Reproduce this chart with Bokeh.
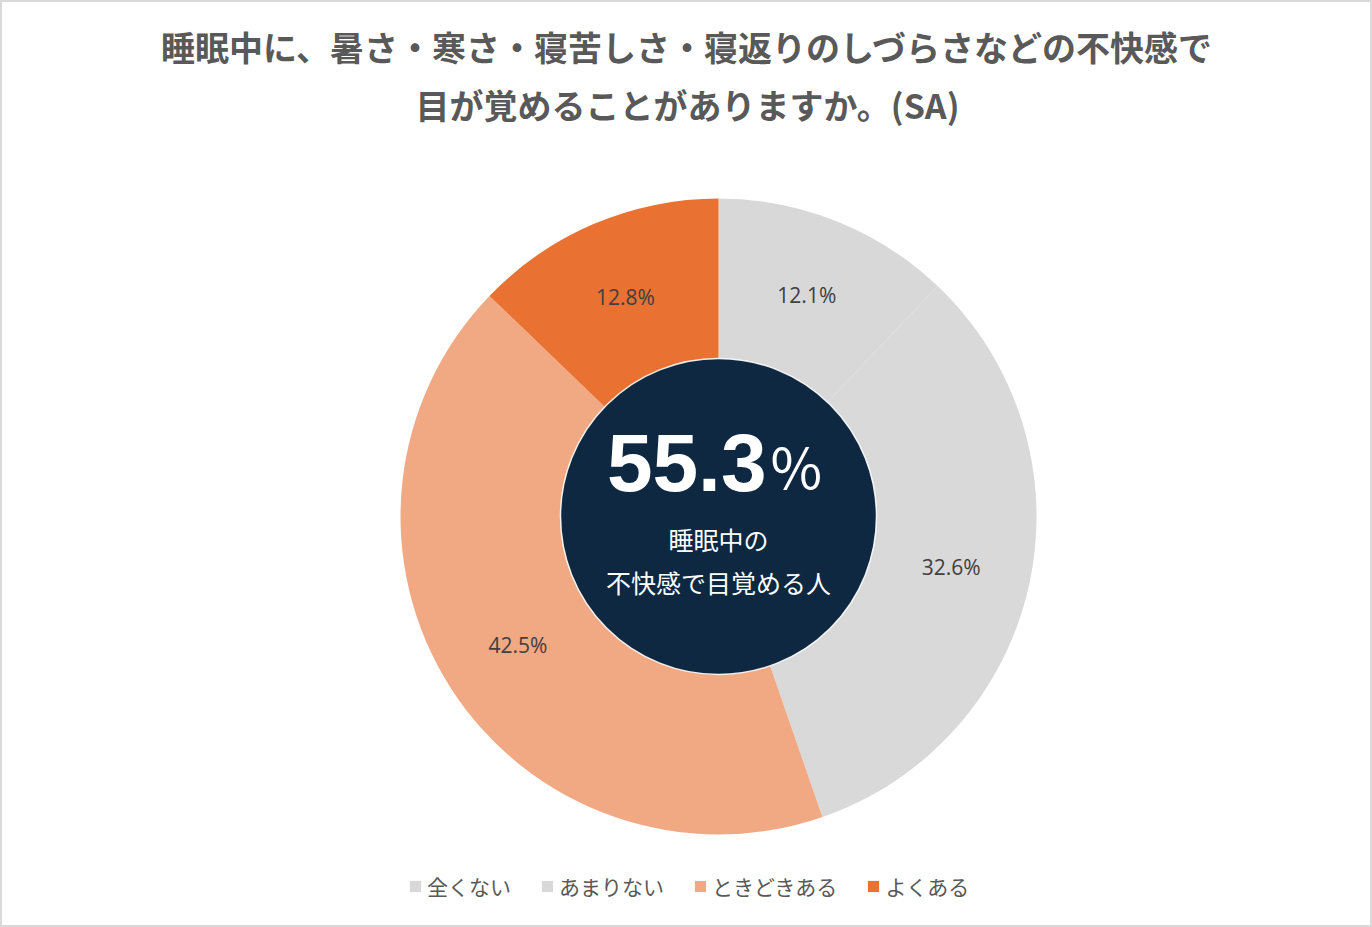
import math
from bokeh.plotting import figure
from bokeh.models import ColumnDataSource, Range1d, Legend, LegendItem, Label
from bokeh.embed import file_html
from bokeh.resources import INLINE
from bokeh.core.properties import value

# ---- data ----
categories = ["全くない", "あまりない", "ときどきある", "よくある"]
shares = [12.1, 32.6, 42.5, 12.8]
colors = ["#D8D8D8", "#D9D9D9", "#F1A983", "#E97132"]
title_lines = ["睡眠中に、暑さ・寒さ・寝苦しさ・寝返りのしづらさなどの不快感で",
               "目が覚めることがありますか。(SA)"]
center_value = "55.3"
center_unit = "%"
center_lines = ["睡眠中の", "不快感で目覚める人"]

W, H = 1372, 927
CX, CY = 718, H - 516
R_OUT, R_IN = 318, 158

total = sum(shares)
starts, ends, lx, ly, labels = [], [], [], [], []
cum = 0.0
for s in shares:
    a0 = math.pi / 2 - 2 * math.pi * cum / total
    cum += s
    a1 = math.pi / 2 - 2 * math.pi * cum / total
    starts.append(a0)
    ends.append(a1)
    mid = (a0 + a1) / 2
    rm = (R_OUT + R_IN) / 2
    lx.append(CX + rm * math.cos(mid))
    ly.append(CY + rm * math.sin(mid))
    labels.append(f"{s:.1f}%")

src = ColumnDataSource(dict(cat=categories, start=starts, end=ends, color=colors,
                            lx=lx, ly=ly, label=labels))

p = figure(width=W, height=H, output_backend="svg", toolbar_location=None,
           x_range=Range1d(0, W), y_range=Range1d(0, H), min_border=0)
p.axis.visible = False
p.grid.visible = False
p.outline_line_color = "#D9D9D9"
p.outline_line_width = 3
p.background_fill_color = "white"
p.border_fill_color = "white"

wedges = p.annular_wedge(x=CX, y=CY, inner_radius=0, outer_radius=R_OUT,
                         start_angle="start", end_angle="end", direction="clock",
                         fill_color="color", line_color=None, source=src)

p.circle(x=[CX], y=[CY], radius=R_IN, fill_color="#0E2841",
         line_color="white", line_width=1.5, line_alpha=0.9)

p.text(x="lx", y="ly", text="label", source=src, text_align="center",
       text_baseline="middle", text_font=value("Open Sans"),
       text_font_size="21px", text_color="#404040")

# title
for i, t in enumerate(title_lines):
    p.add_layout(Label(x=W / 2 + 1, y=H - 46 - 58 * i, text=t, text_align="center",
                       text_baseline="middle", text_font="Noto Sans CJK JP",
                       text_font_style="bold", text_font_size="34px",
                       text_color="#595959"))

# center text
p.add_layout(Label(x=CX + 48, y=CY + 24, text=center_value, text_align="right",
                   text_baseline="middle", text_font="Liberation Sans",
                   text_font_style="bold", text_font_size="82px", text_color="white",
                   y_offset=30))
p.add_layout(Label(x=CX + 52, y=CY + 24, text=center_unit, text_align="left",
                   text_baseline="middle", text_font="Noto Sans CJK JP",
                   text_font_size="56px", text_color="white", y_offset=28))
for i, t in enumerate(center_lines):
    p.add_layout(Label(x=CX, y=CY - 22 - 43 * i, text=t, text_align="center",
                       text_baseline="middle", text_font="Noto Sans CJK JP",
                       text_font_size="25px", text_color="white"))

items = [LegendItem(label=c, renderers=[wedges], index=i) for i, c in enumerate(categories)]
legend = Legend(items=items, orientation="horizontal", location=(408, 26),
                glyph_width=14, glyph_height=14, label_standoff=5, spacing=29,
                padding=0, margin=0, border_line_alpha=0, background_fill_alpha=0,
                label_text_font="Noto Sans CJK JP", label_text_font_size="21px",
                label_text_color="#595959", label_height=20)
p.add_layout(legend, "center")

html = file_html(p, INLINE)
html = html.replace("<head>", "<head><style>html,body{margin:0;padding:0;overflow:hidden;}</style>", 1)
open("out.html", "w").write(html)
